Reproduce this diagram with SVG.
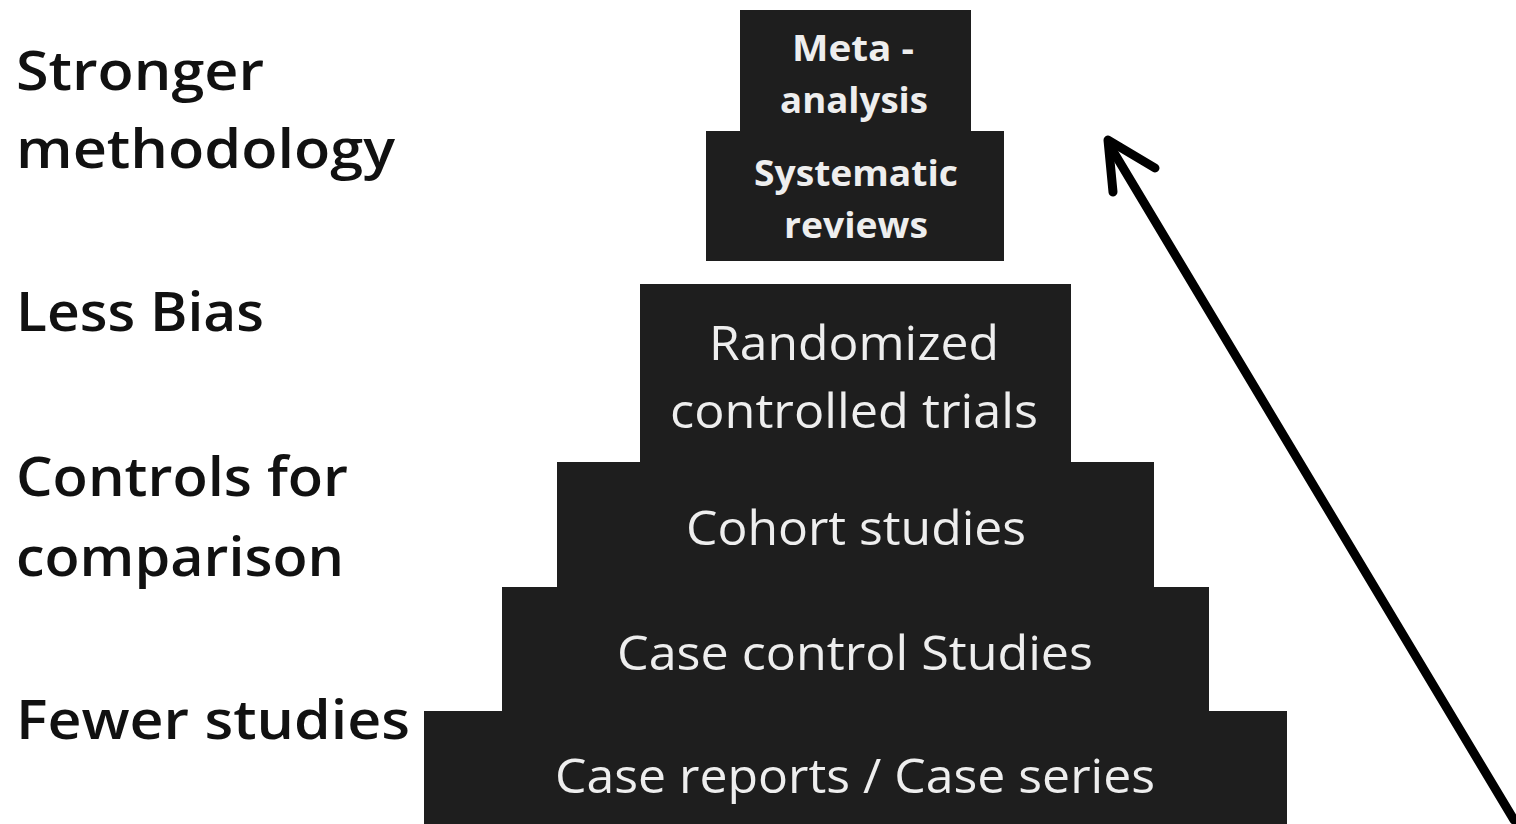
<svg xmlns="http://www.w3.org/2000/svg" width="1516" height="824" viewBox="0 0 1516 824">
<style>
.blk{fill:#1e1e1e}
.lbl{font-family:"Open Sans","Liberation Sans",sans-serif;font-size:54px;fill:#111;font-weight:600}
.in{font-family:"Open Sans","Liberation Sans",sans-serif;fill:#eeeeee;text-anchor:middle}
.sm{font-size:36px;font-weight:700}
.bg{font-size:48px}
</style>
<rect width="1516" height="824" fill="#ffffff"/>
<g id="labels">
<text class="lbl" x="16" y="90" textLength="248" lengthAdjust="spacingAndGlyphs">Stronger</text>
<text class="lbl" x="16" y="168" textLength="379" lengthAdjust="spacingAndGlyphs">methodology</text>
<text class="lbl" x="16" y="331" textLength="248" lengthAdjust="spacingAndGlyphs">Less Bias</text>
<text class="lbl" x="16" y="496" textLength="332" lengthAdjust="spacingAndGlyphs">Controls for</text>
<text class="lbl" x="16" y="576" textLength="328" lengthAdjust="spacingAndGlyphs">comparison</text>
<text class="lbl" x="16" y="739" textLength="394" lengthAdjust="spacingAndGlyphs">Fewer studies</text>
</g>
<g id="case-reports">
<rect class="blk" x="424" y="711" width="863" height="120"/>
<text class="in bg" x="855" y="793" textLength="600" lengthAdjust="spacingAndGlyphs">Case reports / Case series</text>
</g>
<g id="case-control">
<rect class="blk" x="502" y="587" width="707" height="126"/>
<text class="in bg" x="855" y="670" textLength="476" lengthAdjust="spacingAndGlyphs">Case control Studies</text>
</g>
<g id="cohort">
<rect class="blk" x="557" y="462" width="597" height="127"/>
<text class="in bg" x="856" y="545" textLength="340" lengthAdjust="spacingAndGlyphs">Cohort studies</text>
</g>
<g id="rct">
<rect class="blk" x="640" y="284" width="431" height="180"/>
<text class="in bg" x="854" y="360" textLength="290" lengthAdjust="spacingAndGlyphs">Randomized</text>
<text class="in bg" x="854" y="428" textLength="368" lengthAdjust="spacingAndGlyphs">controlled trials</text>
</g>
<g id="meta-analysis">
<rect class="blk" x="740" y="10" width="231" height="125"/>
<text class="in sm" x="853" y="61" textLength="122" lengthAdjust="spacingAndGlyphs">Meta -</text>
<text class="in sm" x="854" y="113" textLength="148" lengthAdjust="spacingAndGlyphs">analysis</text>
</g>
<g id="systematic-reviews">
<rect class="blk" x="706" y="131" width="298" height="130"/>
<text class="in sm" x="856" y="186" textLength="204" lengthAdjust="spacingAndGlyphs">Systematic</text>
<text class="in sm" x="856" y="238" textLength="144" lengthAdjust="spacingAndGlyphs">reviews</text>
</g>
<g id="connectors" fill="none" stroke="#000" stroke-width="9" stroke-linecap="round" stroke-linejoin="round">
<line x1="1514" y1="820" x2="1110" y2="146"/>
<polyline points="1113,192 1108,140 1155,168"/>
</g>
</svg>
